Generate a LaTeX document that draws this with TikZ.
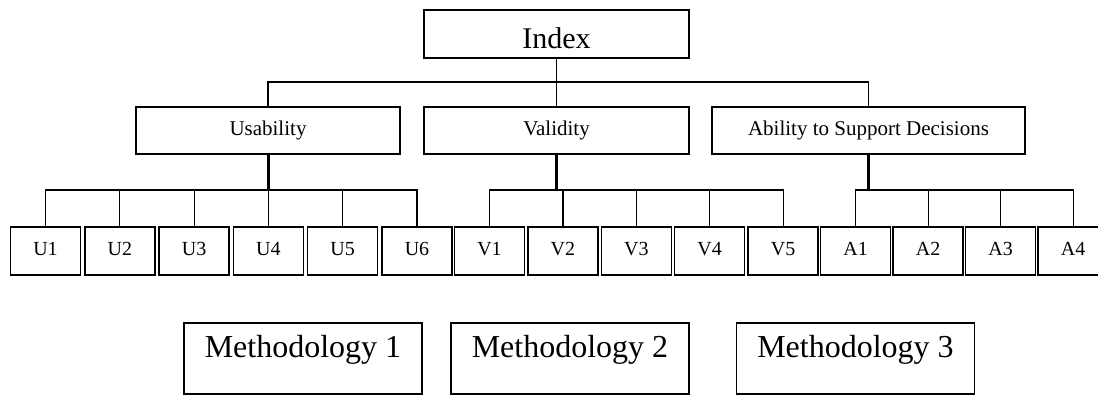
\documentclass[tikz,border=0pt]{standalone}
\usepackage{fontspec}
\setmainfont{Liberation Serif}
\usetikzlibrary{positioning}
\tikzstyle{box} = [draw, line width=1.5pt, rectangle, inner sep=0pt, anchor=north]
\tikzstyle{goal} = [box, minimum width=265pt, text height=38.7pt, text depth=9.3pt, font=\fontsize{30}{36}\selectfont]
\tikzstyle{criterion} = [box, text height=28.5pt, text depth=18.5pt, font=\fontsize{21}{25}\selectfont]
\tikzstyle{indicator} = [box, minimum width=70pt, text height=29pt, text depth=19pt, font=\fontsize{20}{24}\selectfont]
\tikzstyle{method} = [box, minimum width=238pt, text height=34.5pt, text depth=36.5pt, font=\fontsize{32}{38}\selectfont]
\tikzstyle{link} = [line width=1.2pt]
\tikzstyle{stem} = [line width=3pt]

\begin{document}
\begin{tikzpicture}[x=1pt, y=-1pt, node distance=73.4pt]
\useasboundingbox (0,0) rectangle (1098,394);

% The index and the three criteria
\node [goal] (index) at (556.5,9) {Index};
\node [criterion, minimum width=264pt] (usab) at (268,106) {Usability};
\node [criterion, minimum width=265pt, right of=usab, node distance=288.5pt] (valid) {Validity};
\node [criterion, minimum width=313pt, right of=valid, node distance=312pt] (abil) {Ability to Support Decisions};

% Indicators, placed one after the other
\node [indicator] (U1) at (45.5,226) {U1};
\node [indicator, right of=U1, node distance=74.3pt] (U2) {U2};
\node [indicator, right of=U2, node distance=74.3pt] (U3) {U3};
\node [indicator, right of=U3, node distance=74.3pt] (U4) {U4};
\node [indicator, right of=U4, node distance=74.3pt] (U5) {U5};
\node [indicator, right of=U5, node distance=74.3pt] (U6) {U6};
\node [indicator, right of=U6, node distance=72.5pt] (V1) {V1};
\node [indicator, right of=V1] (V2) {V2};
\node [indicator, right of=V2] (V3) {V3};
\node [indicator, right of=V3] (V4) {V4};
\node [indicator, right of=V4] (V5) {V5};
\node [indicator, right of=V5, node distance=72.5pt] (A1) {A1};
\node [indicator, right of=A1, node distance=72.5pt] (A2) {A2};
\node [indicator, right of=A2, node distance=72.5pt] (A3) {A3};
\node [indicator, right of=A3, node distance=72.5pt] (A4) {A4};

% Methodologies
\node [method] (meth1) at (303,322) {Methodology 1};
\node [method, right of=meth1, node distance=267pt] (meth2) {Methodology 2};
\node [method, right of=meth2, node distance=285.5pt] (meth3) {Methodology 3};

% Branch points of the tree
\coordinate (branch) at (556.5,82);
\coordinate (ubar) at (268,190);
\coordinate (vbar) at (556.5,190);
\coordinate (abar) at (868.5,190);

% Index to criteria
\draw [link] (index.south) -- (branch);
\draw [link] (usab.north) |- (branch) -| (abil.north);
\draw [link] (branch) -- (valid.north);

% Criteria to indicators
\draw [stem] (usab.south) -- (ubar);
\draw [link] (U1.north) |- (ubar) -| (U6.north);
\draw [link] (U2.north) -- (U2.north |- ubar);
\draw [link] (U3.north) -- (U3.north |- ubar);
\draw [link] (U4.north) -- (U4.north |- ubar);
\draw [link] (U5.north) -- (U5.north |- ubar);

\draw [stem] (valid.south) -- (vbar);
\draw [link] (V1.north) |- (vbar) -| (V5.north);
\draw [link] (V2.north) -- (V2.north |- vbar);
\draw [link] (V3.north) -- (V3.north |- vbar);
\draw [link] (V4.north) -- (V4.north |- vbar);

\draw [stem] (abil.south) -- (abar);
\draw [link] (A1.north) |- (abar) -| (A4.north);
\draw [link] (A2.north) -- (A2.north |- abar);
\draw [link] (A3.north) -- (A3.north |- abar);
\end{tikzpicture}
\end{document}
